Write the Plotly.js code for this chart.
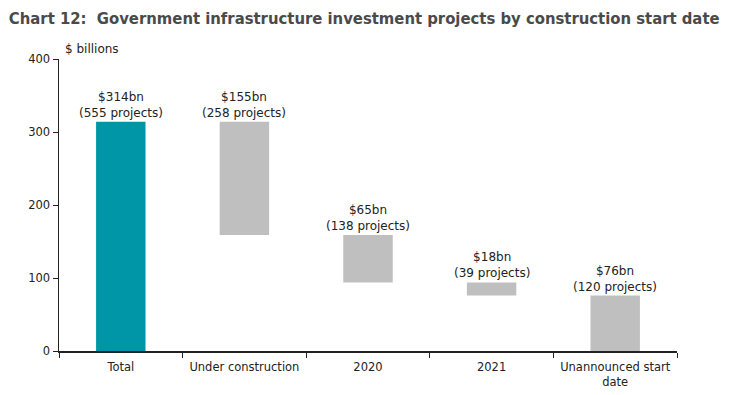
<!DOCTYPE html>
<html><head><meta charset="utf-8">
<script src="https://cdn.plot.ly/plotly-3.0.1.min.js"></script>
<style>html,body{margin:0;padding:0;background:#fff}#chart{width:736px;height:395px}</style>
</head><body><div id="chart"></div>
<script>
const categories = ["Total", "Under construction", "2020", "2021", "Unannounced start<br>date"];
const values = [314, 155, 65, 18, 76];
const bases = [0, 159, 94, 76, 0];
const valueLabels = ["$314bn", "$155bn", "$65bn", "$18bn", "$76bn"];
const projectLabels = ["(555 projects)", "(258 projects)", "(138 projects)", "(39 projects)", "(120 projects)"];
const colors = ["#0096A8", "#BFBFBF", "#BFBFBF", "#BFBFBF", "#BFBFBF"];

const font = "DejaVu Sans, Verdana, sans-serif";
const annotations = categories.map((c, i) => ({
  x: i, y: bases[i] + values[i], xref: "x", yref: "y",
  text: valueLabels[i] + "<br>" + projectLabels[i],
  showarrow: false, yanchor: "bottom", yshift: 0,
  font: {family: font, size: 12, color: "#222"}
}));
annotations.push({
  xref: "paper", yref: "paper", x: 0.006, y: 1.005, xanchor: "left", yanchor: "bottom",
  text: "$ billions", showarrow: false, font: {family: font, size: 12, color: "#222"}
});

const trace = {
  type: "bar", x: categories, y: values, base: bases,
  marker: {color: colors}, width: 0.4, hoverinfo: "skip"
};

const layout = {
  width: 736, height: 395,
  margin: {l: 59, r: 59, t: 59, b: 44},
  paper_bgcolor: "#fff", plot_bgcolor: "#fff",
  showlegend: false,
  title: {text: "<b>Chart 12:  Government infrastructure investment projects by construction start date</b>",
    x: 0.012, xanchor: "left", y: 0.954, yanchor: "middle",
    font: {family: "DejaVu Sans Condensed, sans-serif", size: 16.5, color: "#4a4a4a"}},
  xaxis: {type: "category", range: [-0.5, 4.5], autorange: false, showline: true, linecolor: "#222", linewidth: 1.5,
    ticks: "outside", tickson: "boundaries", ticklen: 5, tickcolor: "#222",
    showgrid: false, zeroline: false, tickangle: 0, ticklabelstandoff: 5,
    tickfont: {family: font, size: 11.5, color: "#222"}},
  yaxis: {range: [0, 400], autorange: false, tickvals: [0, 100, 200, 300, 400], showline: true, linecolor: "#222", linewidth: 1.5,
    ticks: "outside", ticklen: 5, tickcolor: "#222", showgrid: false, zeroline: false,
    tickfont: {family: font, size: 11.5, color: "#222"}},
  annotations: annotations
};

Plotly.newPlot("chart", [trace], layout, {staticPlot: true, displayModeBar: false});
</script></body></html>
